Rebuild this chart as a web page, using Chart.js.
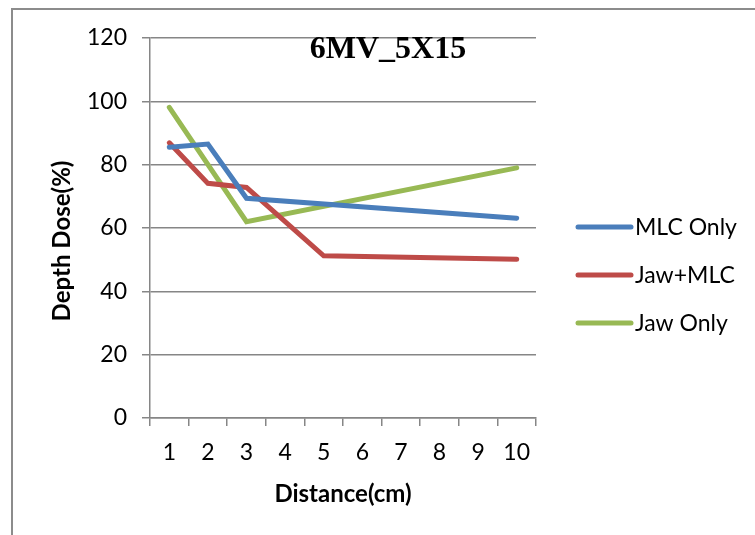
<!DOCTYPE html>
<html>
<head>
<meta charset="utf-8">
<script src="https://cdn.jsdelivr.net/npm/chart.js@4/dist/chart.umd.min.js"></script>
<style>
  html, body { margin: 0; padding: 0; background: #ffffff; }
  #c { display: block; }
</style>
</head>
<body>
<canvas id="c" width="755" height="535"></canvas>
<script>
const categories = ['1', '2', '3', '4', '5', '6', '7', '8', '9', '10'];
const mlcOnly = [85.5, 86.5, 69.4, null, null, null, null, null, null, 63.1];
const jawMlc  = [86.9, 74.1, 72.8, null, 51.2, null, null, null, null, 50.1];
const jawOnly = [98.1, null, 62.0, null, null, null, null, null, null, 79.0];
const seriesNames = ['MLC Only', 'Jaw+MLC', 'Jaw Only'];
const seriesColors = ['#4A7EBB', '#BE4B48', '#98B954'];
const chartTitle = '6MV_5X15';
const xTitle = 'Distance(cm)';
const yTitle = 'Depth Dose(%)';
const yMin = 0, yMax = 120, yStep = 20;

const FONT = 'Lato, "Open Sans", sans-serif';
const GRID = '#868686';

const extras = {
  id: 'extras',
  afterDraw(chart) {
    const ctx = chart.ctx;
    ctx.save();
    // frame (left + top)
    ctx.strokeStyle = '#8c8c8c';
    ctx.lineWidth = 2;
    ctx.beginPath();
    ctx.moveTo(12, 535);
    ctx.lineTo(12, 9);
    ctx.lineTo(755, 9);
    ctx.stroke();

    // title
    ctx.fillStyle = '#000';
    ctx.font = 'bold 32px "Liberation Serif", "Times New Roman", serif';
    ctx.textAlign = 'center';
    ctx.textBaseline = 'alphabetic';
    ctx.fillText(chartTitle, 388, 58);

    // y axis title
    ctx.save();
    ctx.translate(62, 241);
    ctx.rotate(-Math.PI / 2);
    ctx.font = 'bold 24px ' + FONT;
    ctx.textAlign = 'center';
    ctx.textBaseline = 'middle';
    ctx.fillText(yTitle, 0, 0);
    ctx.restore();

    // legend
    const ys = [227, 275, 323];
    chart.data.datasets.forEach((ds, i) => {
      ctx.strokeStyle = ds.borderColor;
      ctx.lineWidth = 5;
      ctx.lineCap = 'round';
      ctx.beginPath();
      ctx.moveTo(578, ys[i]);
      ctx.lineTo(631, ys[i]);
      ctx.stroke();
      ctx.fillStyle = '#000';
      ctx.font = '23px ' + FONT;
      ctx.textAlign = 'left';
      ctx.textBaseline = 'middle';
      ctx.fillText(ds.label, 635, ys[i] + 1);
    });
    ctx.restore();
  }
};

function ds(label, data, color) {
  return {
    label, data,
    borderColor: color,
    backgroundColor: color,
    borderWidth: 5,
    pointRadius: 0,
    pointHoverRadius: 0,
    tension: 0,
    spanGaps: true,
    fill: false,
    borderCapStyle: 'round'
  };
}

new Chart(document.getElementById('c'), {
  type: 'line',
  data: {
    labels: categories,
    datasets: [
      ds(seriesNames[0], mlcOnly, seriesColors[0]),
      ds(seriesNames[1], jawMlc, seriesColors[1]),
      ds(seriesNames[2], jawOnly, seriesColors[2])
    ]
  },
  options: {
    responsive: false,
    animation: false,
    devicePixelRatio: 1,
    layout: { padding: { left: 0, top: 38, right: 219, bottom: 26 } },
    plugins: { legend: { display: false }, tooltip: { enabled: false } },
    scales: {
      x: {
        type: 'category',
        offset: true,
        grid: { offset: true, drawOnChartArea: false, tickLength: 8, color: GRID, lineWidth: 1.5 },
        border: { color: GRID, width: 1.5 },
        ticks: { color: '#000', font: { family: FONT, size: 23 }, padding: 13, maxRotation: 0, autoSkip: false },
        title: { display: true, text: xTitle, color: '#000', font: { family: FONT, size: 24, weight: 'bold' }, padding: 0 },
        afterFit(scale) { scale.height = 91; }
      },
      y: {
        min: yMin, max: yMax,
        ticks: { stepSize: yStep, color: '#000', font: { family: FONT, size: 23 }, padding: 15 },
        grid: { color: GRID, lineWidth: 1.5, tickLength: 8 },
        border: { color: GRID, width: 1.5 },
        afterFit(scale) { scale.width = 150; }
      }
    }
  },
  plugins: [extras]
});
</script>
</body>
</html>
